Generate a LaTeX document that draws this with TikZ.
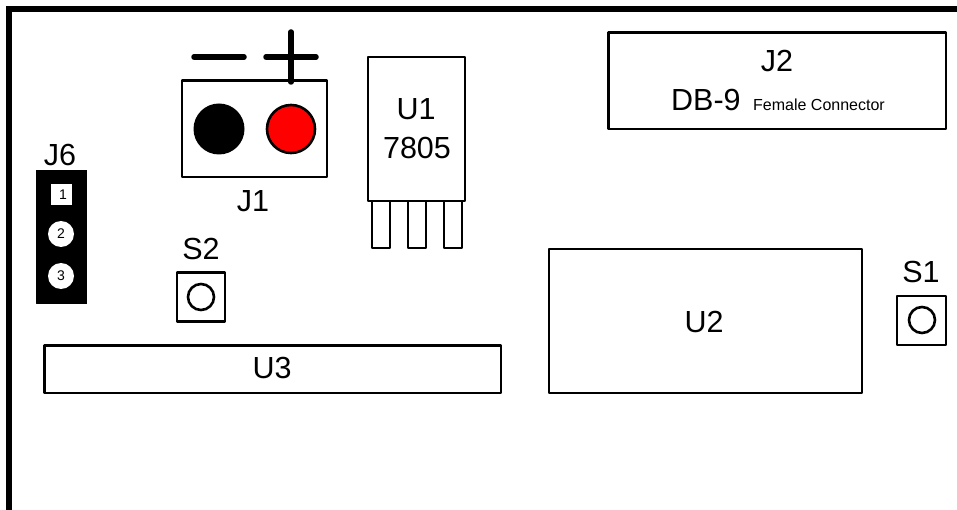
\documentclass[tikz,border=0pt]{standalone}
\usepackage{fontspec}
\setmainfont{Liberation Sans}
\tikzset{
  part/.style={draw=black,line width=2.6pt,line join=round,fill=white},
  big/.style={font=\fontsize{30.5}{33}\selectfont,inner sep=0pt,text=black},
  pinnum/.style={font=\fontsize{14}{16}\selectfont,inner sep=0pt,text=black},
  pinhole/.style={circle,fill=white,draw=none,inner sep=0pt,minimum size=26pt},
  swhole/.style={circle,draw=black,line width=2.6pt,inner sep=0pt,minimum size=26pt},
  heavy/.style={line width=5.5pt,line cap=round}
}
\begin{document}
\begin{tikzpicture}[x=1pt,y=-1pt]
\useasboundingbox (0,0) rectangle (957,510);
% board edge
\draw[line width=5.5pt,line join=miter] (9,510) -- (9,9) -- (957,9);
% J6
\draw[fill=black,draw=black,line width=1pt,line join=round] (36.5,170.5) rectangle (86.5,303.5);
\node[big] (j6) at (60,155) {J6};
\node[fill=white,minimum size=21pt,inner sep=0pt,text=black] (p1) at (61.5,194.5) {\fontsize{14}{16}\selectfont\hspace{3pt}1};
\node[pinhole] (p2) at (61,234) {}; \node[pinnum] at (61,234) {2};
\node[pinhole] (p3) at (61,276) {}; \node[pinnum] at (61,276) {3};
% J1
\draw[part] (182,80.5) rectangle (327,177);
\node[circle,fill=black,inner sep=0pt,minimum size=51pt] (neg) at (219,129) {};
\node[circle,fill=red,draw=black,line width=2.6pt,inner sep=0pt,minimum size=48pt] (pos) at (291,129) {};
\draw[heavy] (194,57) -- (244,57);
\draw[heavy] (266,57) -- (316,57);
\draw[heavy] (291,32) -- (291,82);
\node[big] (j1) at (253,201) {J1};
% S2
\node[big] (s2l) at (201,249) {S2};
\draw[part] (177,272.5) rectangle (225,321.5);
\node[swhole] (s2) at (201,297) {};
% U1
\draw[part,line width=2pt] (372,201) rectangle (390,248);
\draw[part,line width=2pt] (408,201) rectangle (426,248);
\draw[part,line width=2pt] (444,201) rectangle (462,248);
\draw[part] (368,57) rectangle (465,201);
\node[big] (u1a) at (416,109) {U1};
\node[big] (u1b) at (417,148) {7805};
% J2
\draw[part] (608.5,32.5) rectangle (946,129);
\node[big] (j2) at (777,61) {J2};
\node[big,anchor=base west] (db) at (671,110.5) {DB-9};
\node[anchor=base west,inner sep=0pt,text=black,font=\fontsize{16}{18}\selectfont] (fc) at (753,111) {Female Connector};
% U2
\draw[part] (549,249) rectangle (862,393);
\node[big] (u2) at (704,322) {U2};
% S1
\node[big] (s1l) at (921,272) {S1};
\draw[part] (897,296) rectangle (946,345);
\node[swhole] (s1) at (922,320) {};
% U3
\draw[part] (44.5,345.5) rectangle (501,393);
\node[big] (u3) at (272,368) {U3};
\end{tikzpicture}
\end{document}
